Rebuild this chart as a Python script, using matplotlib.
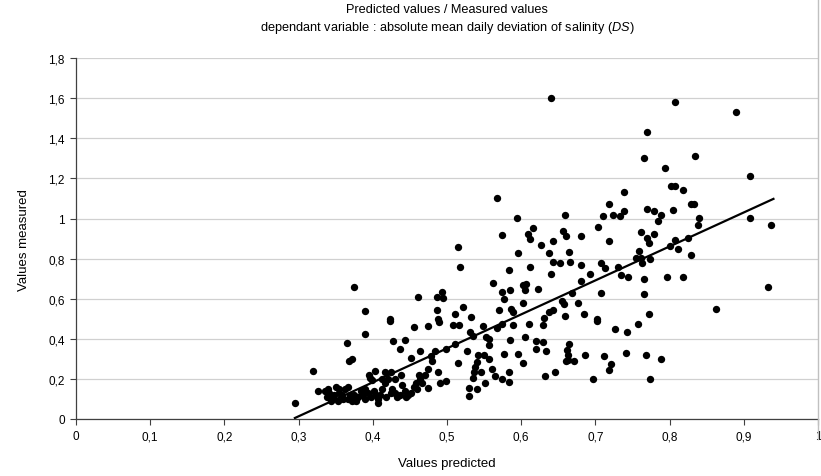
import numpy as np
import matplotlib.pyplot as plt
from matplotlib.ticker import FuncFormatter
from matplotlib.lines import Line2D

plt.rcParams['font.family'] = ['Liberation Sans', 'DejaVu Sans']
plt.rcParams['mathtext.fontset'] = 'custom'
plt.rcParams['mathtext.it'] = 'Liberation Sans:italic'
plt.rcParams['mathtext.rm'] = 'Liberation Sans'

# predicted / measured pairs
predicted = [
    0.640, 0.568, 0.807, 0.770, 0.766, 0.834, 0.794, 0.739, 0.802, 0.807, 0.818, 0.718, 0.829, 0.833, 0.889, 0.908,
    0.908, 0.937, 0.933, 0.862,
    0.374, 0.461, 0.390, 0.423,
    0.594, 0.574, 0.616, 0.609, 0.612, 0.515, 0.627, 0.643, 0.657, 0.659, 0.596, 0.638, 0.517, 0.612, 0.643, 0.652,
    0.583, 0.640, 0.562, 0.574, 0.585, 0.603, 0.606, 0.605, 0.623, 0.577, 0.603, 0.493, 0.486, 0.494, 0.487, 0.521,
    0.511, 0.533, 0.570, 0.586, 0.589, 0.631, 0.637, 0.643, 0.655, 0.658, 0.488,
    0.738, 0.733, 0.724, 0.710, 0.770, 0.779, 0.788, 0.804, 0.840, 0.838, 0.784, 0.704, 0.661, 0.680, 0.719, 0.761,
    0.779, 0.770, 0.772, 0.807, 0.801, 0.811, 0.825, 0.829, 0.664, 0.666, 0.680, 0.708, 0.713, 0.731, 0.759, 0.755,
    0.761, 0.763, 0.774, 0.693, 0.680, 0.735, 0.744, 0.765, 0.797, 0.818, 0.668, 0.708, 0.765, 0.676, 0.684, 0.702,
    0.772, 0.659,
    0.423, 0.455, 0.390, 0.427, 0.443, 0.437, 0.464, 0.365, 0.368, 0.372, 0.452, 0.320, 0.403, 0.416, 0.424, 0.396,
    0.399, 0.326, 0.295,
    0.340, 0.341, 0.338, 0.345, 0.354, 0.355, 0.353, 0.360, 0.367, 0.369, 0.366, 0.372, 0.378, 0.389, 0.384, 0.390,
    0.401, 0.404, 0.407, 0.407, 0.416, 0.420, 0.426, 0.430, 0.437, 0.443, 0.445, 0.452, 0.458, 0.464, 0.470, 0.460,
    0.335, 0.348, 0.350, 0.358, 0.362, 0.375, 0.380, 0.386, 0.393, 0.398, 0.410, 0.413, 0.418, 0.425, 0.432, 0.440,
    0.448, 0.455, 0.462, 0.466, 0.412, 0.430, 0.438, 0.395, 0.343,
    0.489, 0.508, 0.516, 0.474, 0.548, 0.531, 0.535, 0.553, 0.556, 0.556, 0.567, 0.574, 0.589, 0.610, 0.629, 0.585,
    0.605, 0.620, 0.629, 0.620, 0.634, 0.577, 0.596, 0.603, 0.511, 0.499, 0.484, 0.479, 0.480, 0.527, 0.542, 0.550,
    0.557, 0.540, 0.538, 0.536, 0.535, 0.546, 0.551, 0.560, 0.565, 0.574, 0.583, 0.583, 0.474, 0.474, 0.488, 0.490,
    0.499, 0.515, 0.529, 0.529, 0.540, 0.632, 0.646,
    0.702, 0.726, 0.742, 0.757, 0.664, 0.662, 0.663, 0.663, 0.671, 0.660, 0.686, 0.712, 0.741, 0.768, 0.789, 0.721,
    0.719, 0.697, 0.773,
]
measured = [
    1.60, 1.10, 1.58, 1.43, 1.30, 1.31, 1.25, 1.13, 1.16, 1.16, 1.14, 1.07, 1.07, 1.07, 1.53, 1.21,
    1.005, 0.97, 0.66, 0.55,
    0.66, 0.61, 0.54, 0.50,
    1.005, 0.92, 0.954, 0.925, 0.896, 0.86, 0.87, 0.89, 0.94, 1.02, 0.83, 0.83, 0.756, 0.76, 0.783, 0.776,
    0.743, 0.723, 0.677, 0.635, 0.643, 0.668, 0.672, 0.645, 0.65, 0.60, 0.577, 0.635, 0.61, 0.605, 0.546, 0.561,
    0.522, 0.511, 0.545, 0.547, 0.536, 0.502, 0.536, 0.546, 0.589, 0.576, 0.50,
    1.04, 1.011, 1.016, 1.011, 1.05, 1.04, 1.02, 1.045, 1.003, 0.97, 0.99, 0.958, 0.912, 0.912, 0.887, 0.933,
    0.925, 0.904, 0.879, 0.894, 0.861, 0.847, 0.901, 0.816, 0.832, 0.783, 0.768, 0.78, 0.755, 0.758, 0.837, 0.804,
    0.804, 0.78, 0.796, 0.721, 0.688, 0.716, 0.708, 0.697, 0.71, 0.71, 0.63, 0.63, 0.625, 0.577, 0.522, 0.501,
    0.522, 0.514,
    0.489, 0.461, 0.426, 0.387, 0.393, 0.348, 0.340, 0.377, 0.29, 0.30, 0.302, 0.237, 0.24, 0.232, 0.235, 0.207,
    0.196, 0.138, 0.08,
    0.15, 0.13, 0.11, 0.10, 0.15, 0.13, 0.09, 0.10, 0.16, 0.12, 0.10, 0.09, 0.09, 0.10, 0.14, 0.15,
    0.14, 0.12, 0.10, 0.08, 0.18, 0.20, 0.15, 0.13, 0.12, 0.14, 0.11, 0.13, 0.18, 0.20, 0.22, 0.15,
    0.14, 0.12, 0.16, 0.12, 0.15, 0.12, 0.11, 0.12, 0.13, 0.11, 0.12, 0.15, 0.11, 0.13, 0.11, 0.17,
    0.12, 0.16, 0.22, 0.18, 0.20, 0.20, 0.22, 0.22, 0.09,
    0.485, 0.468, 0.468, 0.462, 0.462, 0.432, 0.415, 0.407, 0.398, 0.369, 0.452, 0.474, 0.468, 0.474, 0.468, 0.394,
    0.407, 0.39, 0.385, 0.348, 0.34, 0.323, 0.323, 0.277, 0.373, 0.348, 0.34, 0.315, 0.29, 0.34, 0.318, 0.318,
    0.298, 0.282, 0.257, 0.232, 0.207, 0.235, 0.182, 0.249, 0.212, 0.199, 0.186, 0.235, 0.249, 0.157, 0.232, 0.182,
    0.191, 0.277, 0.157, 0.116, 0.149, 0.216, 0.235,
    0.49, 0.449, 0.436, 0.474, 0.373, 0.345, 0.32, 0.295, 0.287, 0.29, 0.32, 0.315, 0.328, 0.32, 0.30, 0.272,
    0.242, 0.199, 0.199,
]

# trend line end points
trend_x = [0.295, 0.940]
trend_y = [0.005, 1.098]

fig = plt.figure(figsize=(8.21, 4.77), dpi=100)
ax = fig.add_axes([0.0926, 0.1195, 0.9037, 0.7565])

ax.scatter(predicted, measured, s=28, color='black', zorder=3, linewidths=0)
ax.plot(trend_x, trend_y, color='black', lw=1.6, zorder=4)

ax.set_xlim(0, 1)
ax.set_ylim(0, 1.8)
ax.set_xticks(np.arange(0, 1.01, 0.1))
ax.set_yticks(np.arange(0, 1.81, 0.2))

comma = FuncFormatter(lambda v, p: ('%.1f' % v).rstrip('0').rstrip('.').replace('.', ','))
ax.xaxis.set_major_formatter(comma)
ax.yaxis.set_major_formatter(comma)
ax.tick_params(labelsize=8.5, length=4, width=0.8, color='#404040', direction='out', pad=4)

ax.grid(axis='y', color='#d0d0d0', lw=0.9)
ax.set_axisbelow(True)
ax.spines['top'].set_visible(False)
ax.spines['right'].set_visible(False)
for side in ['left', 'bottom']:
    ax.spines[side].set_color('#404040')
    ax.spines[side].set_linewidth(0.9)

# chart-area border on the right, as in the reference
fig.add_artist(Line2D([818 / 821, 818 / 821], [37 / 477, 1.0], transform=fig.transFigure,
                      color='#c0c0c0', lw=1.0))

ax.set_xlabel('Values predicted', fontsize=9.5, labelpad=11)
ax.set_ylabel('Values measured', fontsize=9.5, labelpad=13)
ax.set_title('Predicted values / Measured values\n'
             'dependant variable : absolute mean daily deviation of salinity ($\\mathit{DS}$)',
             fontsize=9.2, linespacing=1.4, pad=20)

fig.savefig('out.png', dpi=100)
